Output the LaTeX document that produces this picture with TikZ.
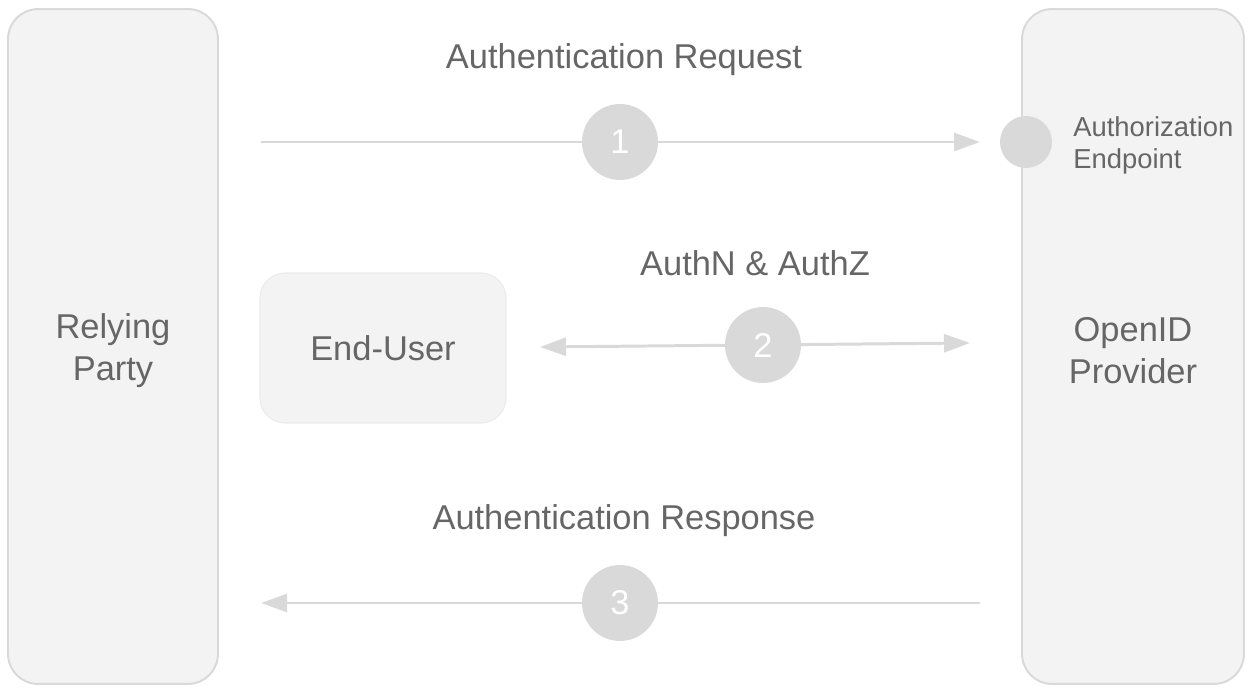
\documentclass[tikz,border=0pt]{standalone}
\usepackage{fontspec}
\setmainfont{Liberation Sans}
\usetikzlibrary{arrows.meta}
\definecolor{boxgray}{HTML}{F3F3F3}
\definecolor{linegray}{HTML}{D9D9D9}
\definecolor{usergray}{HTML}{EBEBEB}
\definecolor{textgray}{HTML}{666666}
\newcommand{\bigfont}{\fontsize{19.6}{23.9}\selectfont}
\newcommand{\smallfont}{\fontsize{15.6}{18.2}\selectfont}
\tikzstyle{party}=[draw=linegray, line width=1.1pt, fill=boxgray, rounded corners=0.6cm, minimum height=13.5cm]
\tikzstyle{stepnum}=[circle, fill=linegray, minimum size=1.52cm, inner sep=0pt, text=white, font=\bigfont]
\tikzstyle{flow}=[linegray, line width=1.7pt, -{Triangle[length=14.8pt,width=10.2pt]}]
\tikzstyle{msg}=[text=textgray, font=\bigfont, align=center]

\begin{document}
\begin{tikzpicture}
        [x=0.02cm,y=-0.02cm]
            \useasboundingbox (0,0) rectangle (1252,692);
            \node [party, minimum width=4.2cm] (rp) at (113,346.5) {};
            \node [party, minimum width=4.44cm] (op) at (1133,346.5) {};
            \node [msg, yshift=-2.3pt] (rplabel) at (rp) {Relying\\Party};
            \node [msg, yshift=-2.3pt] (oplabel) at (op) {OpenID\\Provider};
            \node [draw=usergray, line width=0.6pt, fill=boxgray, rounded corners=0.5cm, minimum width=4.92cm, minimum height=3cm, text=textgray, font=\bigfont] (user) at (383,348) {End-User};
            \node [circle, fill=linegray, minimum size=1.04cm, inner sep=0pt] (authz) at (1026,142) {};
            \node [anchor=west, inner sep=0pt, align=left, text=textgray, font=\smallfont] (authzlabel) at (1073,145) {Authorization\\Endpoint};
            \coordinate (reqfrom) at (261,142);
            \coordinate (reqto) at (980,142);
            \coordinate (userend) at (540,347);
            \coordinate (opend) at (970,343);
            \coordinate (respfrom) at (980,603);
            \coordinate (respto) at (261,603);
            \draw [flow] (reqfrom) -- (reqto);
            \draw [flow, {Triangle[length=14.8pt,width=10.2pt]}-{Triangle[length=14.8pt,width=10.2pt]}] (userend) -- (opend);
            \draw [flow] (respfrom) -- (respto);
            \node [stepnum] (one) at (620,142) {1};
            \node [stepnum] (two) at (763,345) {2};
            \node [stepnum] (three) at (620,603) {3};
            \node [msg] (request) at (624,60) {Authentication Request};
            \node [msg] (authn) at (755,263) {AuthN \& AuthZ};
            \node [msg] (response) at (624,521) {Authentication Response};
        \end{tikzpicture}
\end{document}
